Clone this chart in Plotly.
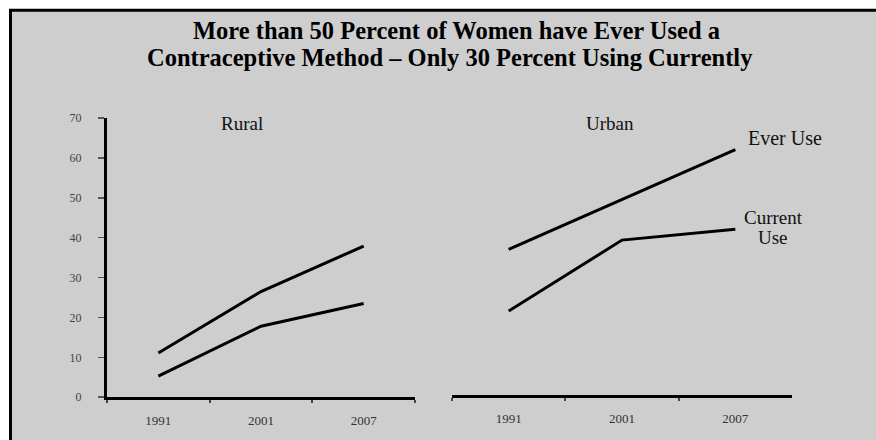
import plotly.graph_objects as go

years = ["1991", "2001", "2007"]
rural_ever = [11.1, 26.5, 37.9]
rural_current = [5.3, 17.8, 23.5]
urban_ever = [36.6, 49.2, 61.6]
urban_current = [21.1, 38.9, 41.6]
y_ticks = [0, 10, 20, 30, 40, 50, 60, 70]

W, H = 876, 440
# vertical compensation for the capture: seen = 0.967 * y + 7.25
def vy(t):
    return (t - 7.25) / 0.967
def px(x):
    return x / W
def py(t):
    return (H - vy(t)) / H

SERIF = "Liberation Serif, Times New Roman, serif"
line_style = dict(color="black", width=3)

fig = go.Figure()
fig.add_trace(go.Scatter(x=years, y=rural_ever, mode="lines", line=line_style, xaxis="x", yaxis="y", showlegend=False))
fig.add_trace(go.Scatter(x=years, y=rural_current, mode="lines", line=line_style, xaxis="x", yaxis="y", showlegend=False))
fig.add_trace(go.Scatter(x=years, y=urban_ever, mode="lines", line=line_style, xaxis="x2", yaxis="y2", showlegend=False))
fig.add_trace(go.Scatter(x=years, y=urban_current, mode="lines", line=line_style, xaxis="x2", yaxis="y2", showlegend=False))

xaxis_common = dict(
    type="category", range=[-0.5, 2.5], showline=True, linecolor="black", linewidth=3,
    ticks="outside", tickson="boundaries", ticklen=3, tickwidth=2, tickcolor="#444",
    tickfont=dict(family=SERIF, size=13, color="#333"), ticklabelstandoff=9,
    showgrid=False, zeroline=False, fixedrange=True,
)

def ann(text, x, y, size, color="#111"):
    return dict(text=text, x=px(x), y=py(y), xref="paper", yref="paper",
                xanchor="center", yanchor="middle", showarrow=False,
                font=dict(family=SERIF, size=size, color=color))

fig.update_layout(
    width=W, height=H,
    margin=dict(l=0, r=0, t=0, b=0),
    paper_bgcolor="white",
    plot_bgcolor="rgba(0,0,0,0)",
    xaxis=dict(domain=[px(107), px(415)], anchor="y", **xaxis_common),
    xaxis2=dict(domain=[px(452), px(792)], anchor="y2", **xaxis_common),
    yaxis=dict(
        domain=[py(397), py(118.2)], range=[0, 70], tickvals=y_ticks,
        showline=True, linecolor="black", linewidth=3,
        ticks="outside", ticklen=6, tickwidth=1.5, tickcolor="#555",
        tickfont=dict(family=SERIF, size=12, color="#444"), ticklabelstandoff=14,
        showgrid=False, zeroline=False, fixedrange=True,
    ),
    yaxis2=dict(
        domain=[py(395), py(116.2)], range=[0, 70], anchor="x2",
        visible=False, showgrid=False, zeroline=False, fixedrange=True,
    ),
    shapes=[
        dict(type="rect", xref="paper", yref="paper", layer="below",
             x0=px(10.5), x1=1.05, y0=-0.05, y1=py(10.5),
             fillcolor="#cecece", line=dict(color="black", width=3)),
    ],
    annotations=[
        ann("<b>More than 50 Percent of Women have Ever Used a</b>", 456, 31, 24.5, "black"),
        ann("<b>Contraceptive Method \u2013 Only 30 Percent Using Currently</b>", 450, 58, 24.5, "black"),
        ann("Rural", 242, 124, 19),
        ann("Urban", 610, 124, 19),
        ann("Ever Use", 785, 138, 20),
        ann("Current", 773, 217, 19),
        ann("Use", 773, 237, 19),
    ],
)

post = (
    "document.documentElement.style.margin='0';"
    "document.documentElement.style.padding='0';"
    "document.documentElement.style.overflow='hidden';"
    "document.body.style.margin='0';"
    "document.body.style.padding='0';"
    "document.body.style.overflow='hidden';"
    "var gd=document.getElementById('{plot_id}');"
    "gd.style.position='fixed';gd.style.left='0px';gd.style.top='0px';"
)

fig.write_html(
    "out.html",
    config={"displayModeBar": False, "staticPlot": True},
    post_script=post,
)
